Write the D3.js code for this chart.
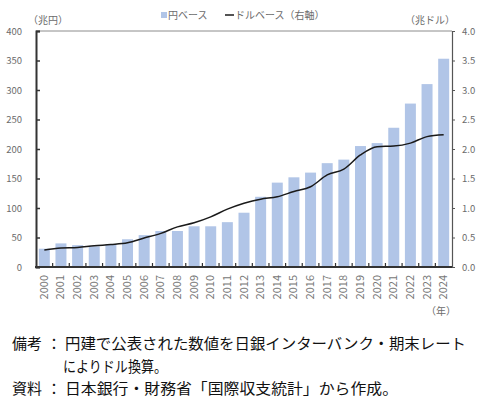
<!DOCTYPE html>
<html><head><meta charset="utf-8">
<script src="https://cdn.jsdelivr.net/npm/d3@7"></script>
<style>
html,body{margin:0;padding:0;background:#fff;}
svg{display:block;}
text{font-family:"Noto Sans CJK JP","Noto Sans",sans-serif;}
</style></head>
<body>
<svg id="c" width="480" height="410"></svg>
<script>
const years = ["2000","2001","2002","2003","2004","2005","2006","2007","2008","2009","2010","2011","2012","2013","2014","2015","2016","2017","2018","2019","2020","2021","2022","2023","2024"];
const yenBase = [31,40,37,35,39,47,54,61,61,69,69,76,92,119,143,152,160,176,182,205,210,236,277,310,353];
const usdBase = [0.29,0.32,0.33,0.36,0.38,0.41,0.49,0.57,0.68,0.75,0.85,0.98,1.08,1.15,1.19,1.28,1.36,1.56,1.66,1.90,2.04,2.05,2.10,2.21,2.24];
const leftTicks = [0,50,100,150,200,250,300,350,400];
const rightTicks = [0,0.5,1.0,1.5,2.0,2.5,3.0,3.5,4.0];
const legendLabels = ["円ベース","ドルベース（右軸）"];
const unitLeft = "（兆円）", unitRight = "（兆ドル）", unitX = "（年）";
const noteHeads = ["備考","","資料"];
const noteBodies = ["円建で公表された数値を日銀インターバンク・期末レート","によりドル換算。","日本銀行・財務省「国際収支統計」から作成。"];

const svg = d3.select("#c");
const L = 36, R = 452, T = 31, B = 267;
const x = d3.scaleBand().domain(years).range([L, R]).paddingInner(0.34).paddingOuter(0.17);
const yL = d3.scaleLinear().domain([0, 400]).range([B, T]);
const yR = d3.scaleLinear().domain([0, 4]).range([B, T]);
const grey = "#6b6b6b";

// bars
svg.append("g").selectAll("rect").data(years).join("rect")
  .attr("x", d => x(d)).attr("width", x.bandwidth())
  .attr("y", (d,i) => yL(yenBase[i])).attr("height", (d,i) => B - yL(yenBase[i]))
  .attr("fill", "#b1c5e7");

// line
const line = d3.line().x((d,i) => x(years[i]) + x.bandwidth()/2).y(d => yR(d)).curve(d3.curveMonotoneX);
svg.append("path").datum(usdBase).attr("d", line).attr("fill","none").attr("stroke","#1a1a1a").attr("stroke-width",1.5);

// frame
svg.append("line").attr("x1",L).attr("x2",R).attr("y1",T).attr("y2",T).attr("stroke","#8c8c8c").attr("stroke-width",1);

// left axis
const axL = d3.axisLeft(yL).tickValues(leftTicks).tickSize(-4).tickPadding(14).tickFormat(d3.format("d"));
const gL = svg.append("g").attr("transform",`translate(${L},0)`).call(axL);
gL.select(".domain").attr("stroke","#333").attr("stroke-width",2);
gL.selectAll(".tick line").attr("stroke","#333").attr("stroke-width",1.5);
gL.selectAll("text").attr("fill",grey).attr("font-size",9.5).attr("font-family","Liberation Sans, sans-serif");

// right axis
const axR = d3.axisRight(yR).tickValues(rightTicks).tickSize(3).tickPadding(7).tickFormat(d3.format(".1f"));
const gR = svg.append("g").attr("transform",`translate(${R},0)`).call(axR);
gR.select(".domain").attr("stroke","#555").attr("stroke-width",1.2);
gR.selectAll(".tick line").attr("stroke","#555");
gR.selectAll("text").attr("fill",grey).attr("font-size",9.5).attr("font-family","Liberation Sans, sans-serif");

// bottom axis
const step = x.step();
const gB = svg.append("g");
gB.selectAll("line.t").data(years.slice(1)).join("line")
  .attr("x1", d => x(d) - step*x.paddingInner()/2).attr("x2", d => x(d) - step*x.paddingInner()/2)
  .attr("y1", B).attr("y2", B-4).attr("stroke","#333").attr("stroke-width",1.2);
svg.append("line").attr("x1",L-1).attr("x2",R).attr("y1",B).attr("y2",B).attr("stroke","#333").attr("stroke-width",2);
gB.selectAll("text").data(years).join("text")
  .attr("transform", d => `translate(${x(d)+x.bandwidth()/2+3.5},275) rotate(-90)`)
  .attr("text-anchor","end").attr("fill","#777").attr("font-size",11)
  .attr("font-family","Liberation Sans, sans-serif").text(d => d);

// units
svg.append("text").attr("x",28).attr("y",24).attr("font-size",10).attr("fill",grey).text(unitLeft);
svg.append("text").attr("x",455).attr("y",24).attr("text-anchor","end").attr("font-size",10).attr("fill",grey).text(unitRight);
svg.append("text").attr("x",456).attr("y",315).attr("text-anchor","end").attr("font-size",10).attr("fill",grey).text(unitX);

// legend
svg.append("rect").attr("x",161).attr("y",12).attr("width",6).attr("height",6).attr("fill","#b1c5e7");
svg.append("text").attr("x",168).attr("y",19).attr("font-size",10).attr("fill",grey).text(legendLabels[0]);
svg.append("line").attr("x1",225).attr("x2",234).attr("y1",15).attr("y2",15).attr("stroke","#1a1a1a").attr("stroke-width",1.5);
svg.append("text").attr("x",235).attr("y",19).attr("font-size",10).attr("fill",grey).text(legendLabels[1]);

// notes
const noteY = [349, 372, 394];
const bodyLen = [401, 104, 333];
noteHeads.forEach((h,i) => {
  if (h) {
    svg.append("text").attr("x",12).attr("y",noteY[i]).attr("font-size",15).attr("fill","#111").text(h);
    svg.append("text").attr("x",54).attr("y",noteY[i]).attr("text-anchor","middle").attr("font-size",15).attr("fill","#111").text("：");
  }
  svg.append("text").attr("x", h ? 65 : 63).attr("y",noteY[i]).attr("font-size",15).attr("fill","#111")
    .attr("textLength",bodyLen[i]).attr("lengthAdjust","spacingAndGlyphs").text(noteBodies[i]);
});
</script>
</body></html>
